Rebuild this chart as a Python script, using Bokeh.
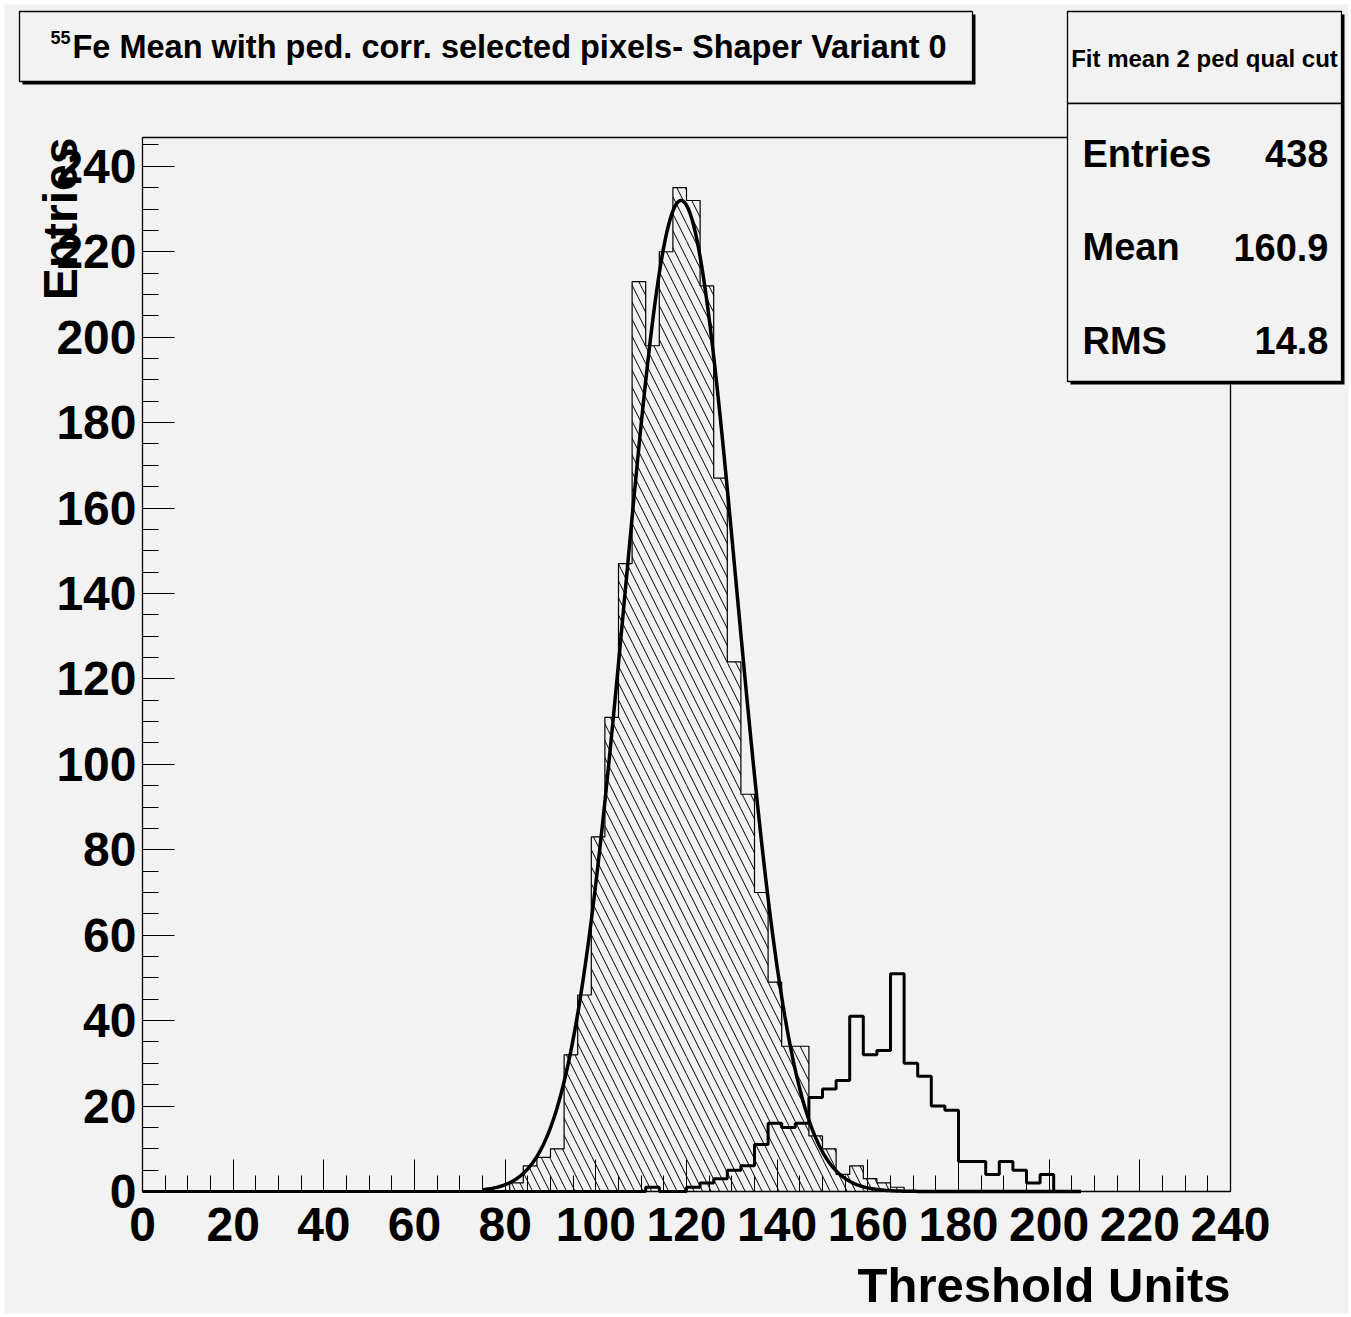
import math
import numpy as np
from bokeh.plotting import figure
from bokeh.models import BoxAnnotation, Label, SingleIntervalTicker, Range1d
from bokeh.embed import file_html
from bokeh.resources import INLINE

# ---------------- data ----------------
BIN_WIDTH = 3
X_MIN, X_MAX = 0, 240
Y_MIN, Y_MAX = 0, 246.75

# hatched histogram (ped. corr. peak), bins of 3 starting at 78
hatched_first_edge = 78
hatched_counts = [0, 2, 6, 8, 10, 32, 46, 83, 111, 147, 213, 198, 220, 235, 232,
                  212, 167, 124, 93, 70, 49, 34, 34, 13, 10, 4, 6, 3, 2, 1, 0]

# open (thick line) histogram, bins of 3 starting at 108
open_first_edge = 108
open_counts = [0, 1, 0, 0, 1, 2, 3, 5, 6, 11, 16, 15, 16, 22, 24, 26, 41, 32, 33,
               51, 30, 27, 20, 19, 7, 7, 4, 7, 5, 2, 4, 0]
open_line_end = 207

# gaussian fit drawn over the hatched histogram
fit_constant = 232.0
fit_mean = 118.8
fit_sigma = 12.3
fit_start, fit_end = 75, 207

x_major_interval = 20
y_major_interval = 20

title_superscript = "55"
title_text = "Fe Mean with ped. corr. selected pixels- Shaper Variant 0"
stats_header = "Fit mean 2 ped qual cut"
stats_names = ["Entries", "Mean", "RMS"]
stats_values = ["438", "160.9", "14.8"]
x_axis_title = "Threshold Units"
y_axis_title = "Entries"

# ---------------- layout (page pixels) ----------------
FONT = "Liberation Sans"
BG = "#f2f2f2"
W, H = 1350, 1316
FRAME_L, FRAME_R, FRAME_T, FRAME_B = 142, 1230, 137, 1191
X_PER_PX = (X_MAX - X_MIN) / (FRAME_R - FRAME_L)
Y_PER_PX = (Y_MAX - Y_MIN) / (FRAME_B - FRAME_T)


def page_x(px):
    return X_MIN + (px - FRAME_L) * X_PER_PX


def page_y(py):
    return Y_MIN + (FRAME_B - py) * Y_PER_PX


p = figure(width=W, height=H,
           x_range=Range1d(page_x(0), page_x(W)),
           y_range=Range1d(page_y(H), page_y(0)),
           output_backend="svg", toolbar_location=None,
           min_border_left=0, min_border_right=0,
           min_border_top=0, min_border_bottom=0)
p.title.visible = False
p.background_fill_color = "white"
p.border_fill_color = "white"
p.outline_line_color = None
p.grid.visible = False

# ROOT canvas (light grey page)
p.add_layout(BoxAnnotation(left=page_x(4), right=page_x(1348),
                           top=page_y(4), bottom=page_y(1313),
                           fill_color=BG, fill_alpha=1.0, line_alpha=0,
                           level="underlay"))

p.xaxis.ticker = SingleIntervalTicker(interval=x_major_interval, num_minor_ticks=4)
p.yaxis.ticker = SingleIntervalTicker(interval=y_major_interval, num_minor_ticks=4)
p.xaxis.fixed_location = Y_MIN
p.yaxis.fixed_location = X_MIN
p.xaxis.bounds = (X_MIN, X_MAX)
p.yaxis.bounds = (Y_MIN, Y_MAX)
for ax in (p.xaxis[0], p.yaxis[0]):
    ax.major_tick_in = 32
    ax.major_tick_out = 0
    ax.minor_tick_in = 16
    ax.minor_tick_out = 0
    ax.major_tick_line_color = "black"
    ax.minor_tick_line_color = "black"
    ax.axis_line_color = "black"
    ax.major_label_text_font = FONT
    ax.major_label_text_font_style = "bold"
    ax.major_label_text_font_size = "48px"
    ax.major_label_text_color = "black"
p.xaxis.major_label_standoff = 16
p.yaxis.major_label_standoff = 6

# ---------------- hatched histogram ----------------
h_left = [hatched_first_edge + i * BIN_WIDTH for i in range(len(hatched_counts))]
h_right = [l + BIN_WIDTH for l in h_left]
p.quad(left=h_left, right=h_right, bottom=0, top=hatched_counts,
       fill_color=None, line_color=None,
       hatch_pattern="\\", hatch_color="black", hatch_scale=17, hatch_weight=1)
p.step(x=h_left + [h_right[-1]], y=hatched_counts + [0], mode="after",
       line_color="black", line_width=1.2)

# ---------------- open histogram (thick) ----------------
n_bins = int((open_line_end - X_MIN) / BIN_WIDTH)
full_open = np.zeros(n_bins)
start_idx = int((open_first_edge - X_MIN) / BIN_WIDTH)
full_open[start_idx:start_idx + len(open_counts)] = open_counts
o_edges = [X_MIN + i * BIN_WIDTH for i in range(n_bins + 1)]
p.step(x=o_edges, y=list(full_open) + [0], mode="after",
       line_color="black", line_width=3)

# ---------------- gaussian fit ----------------
fx = np.linspace(fit_start, fit_end, 700)
fy = fit_constant * np.exp(-0.5 * ((fx - fit_mean) / fit_sigma) ** 2)
p.line(fx, fy, line_color="black", line_width=3.5)

# ROOT frame
p.add_layout(BoxAnnotation(left=X_MIN, right=X_MAX, bottom=Y_MIN, top=Y_MAX,
                           fill_alpha=0, line_color="black", line_alpha=1.0,
                           line_width=1.3))


# ---------------- boxes ----------------
def box(l, t, r, b, fill, line_color="black", line_width=1.3):
    p.add_layout(BoxAnnotation(left=page_x(l), right=page_x(r),
                               top=page_y(t), bottom=page_y(b),
                               fill_color=fill, fill_alpha=1.0,
                               line_color=line_color if line_color else "black",
                               line_width=line_width,
                               line_alpha=1.0 if line_color else 0))


# title box with shadow
box(22, 14, 975, 84, "black", None)
box(19, 11, 972, 81, BG)
# stats box with shadow
box(1070, 14, 1344, 384, "black", None)
box(1067, 11, 1341, 103, BG)
box(1067, 103, 1341, 381, BG)


def label(px, py, text, size, align="left", baseline="middle", angle=0.0):
    p.add_layout(Label(x=page_x(px), y=page_y(py), text=text,
                       text_font=FONT, text_font_style="bold",
                       text_font_size=size, text_color="black",
                       text_align=align, text_baseline=baseline, angle=angle))


label(50, 37, title_superscript, "18px")
label(72, 46, title_text, "32.5px")
label(1204, 58, stats_header, "24px", align="center")
for i, (nm, val) in enumerate(zip(stats_names, stats_values)):
    yy = 153 + i * 93.5
    label(1082, yy, nm, "38px")
    label(1328, yy, val, "38px", align="right")

label(1230, 1284, x_axis_title, "49px", align="right")
label(60, 137, y_axis_title, "48px", align="right", angle=math.pi / 2)

open("out.html", "w").write(file_html(p, INLINE))
